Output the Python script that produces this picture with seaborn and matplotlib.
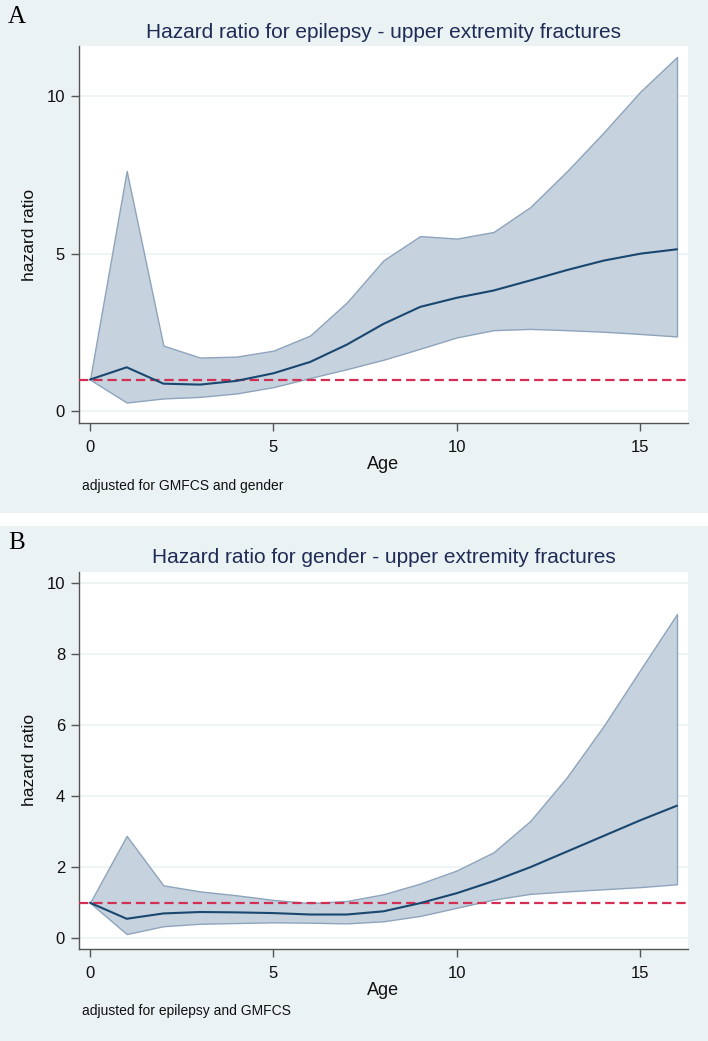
import matplotlib
matplotlib.use("Agg")
import matplotlib.pyplot as plt
import pandas as pd
import seaborn as sns
from matplotlib.patches import Rectangle

# data (age 0..16)
age = list(range(17))

hr_epi = [1.0, 1.39, 0.87, 0.84, 0.96, 1.2, 1.56, 2.11, 2.77, 3.31, 3.6, 3.83, 4.15, 4.48, 4.78, 5.0, 5.14]
lo_epi = [1.0, 0.27, 0.40, 0.45, 0.56, 0.76, 1.05, 1.33, 1.63, 1.98, 2.34, 2.57, 2.61, 2.57, 2.52, 2.45, 2.37]
hi_epi = [1.0, 7.63, 2.08, 1.70, 1.73, 1.92, 2.40, 3.45, 4.79, 5.56, 5.48, 5.69, 6.48, 7.62, 8.85, 10.15, 11.25]

hr_gen = [1.0, 0.55, 0.70, 0.74, 0.73, 0.71, 0.67, 0.67, 0.76, 0.99, 1.27, 1.61, 2.0, 2.44, 2.88, 3.32, 3.73]
lo_gen = [1.0, 0.12, 0.34, 0.41, 0.43, 0.45, 0.44, 0.42, 0.48, 0.63, 0.86, 1.09, 1.25, 1.32, 1.38, 1.44, 1.52]
hi_gen = [1.0, 2.88, 1.49, 1.32, 1.21, 1.08, 0.99, 1.05, 1.24, 1.54, 1.91, 2.42, 3.30, 4.53, 5.97, 7.55, 9.12]

titles = ["Hazard ratio for epilepsy - upper extremity fractures",
          "Hazard ratio for gender - upper extremity fractures"]
notes = ["adjusted for GMFCS and gender", "adjusted for epilepsy and GMFCS"]
letters = ["A", "B"]
yticks = [[0, 5, 10], [0, 2, 4, 6, 8, 10]]
ylims = [(-0.38, 11.6), (-0.3, 10.31)]

sns.set_theme(style="white")
plt.rcParams["font.family"] = ["Liberation Sans", "DejaVu Sans"]

BG = "#eaf2f3"
NAVY = "#1a476f"
FILL = "#c6d2de"
EDGE = "#8ea4bc"
RED = "#d32f55"

fig = plt.figure(figsize=(7.08, 10.41), dpi=100)
fig.patch.set_facecolor("white")
H = 1041.0
fig.patches.append(Rectangle((0, 1 - 513 / H), 1, 513 / H, transform=fig.transFigure,
                             facecolor=BG, edgecolor="none", zorder=-10))
fig.patches.append(Rectangle((0, 0), 1, 1 - 526 / H, transform=fig.transFigure,
                             facecolor=BG, edgecolor="none", zorder=-10))

panels = [(hr_epi, lo_epi, hi_epi), (hr_gen, lo_gen, hi_gen)]
# axes boxes in pixels: (top, bottom)
boxes = [(46, 423), (571.7, 949)]
left, right = 79 / 708, 688 / 708

for i, (hr, lo, hi) in enumerate(panels):
    top, bot = boxes[i]
    ax = fig.add_axes([left, 1 - bot / H, right - left, (bot - top) / H])
    ax.set_zorder(5)
    ax.set_facecolor("white")
    df = pd.DataFrame({"age": age, "hr": hr, "lo": lo, "hi": hi})

    for t in yticks[i]:
        ax.axhline(t, color=BG, lw=1.2, zorder=0)
    ax.fill_between(df["age"], df["lo"], df["hi"], facecolor=FILL,
                    edgecolor=EDGE, lw=1.0, zorder=2)
    ax.axhline(1, color=RED, lw=1.6, ls=(0, (4.2, 2.2)), zorder=3)
    sns.lineplot(data=df, x="age", y="hr", ax=ax, color=NAVY, lw=1.5, zorder=4)

    ax.set_xlim(-0.3, 16.3)
    ax.set_ylim(*ylims[i])
    ax.set_xticks([0, 5, 10, 15])
    ax.set_yticks(yticks[i])
    for s in ["top", "right"]:
        ax.spines[s].set_visible(False)
    for s in ["left", "bottom"]:
        ax.spines[s].set_color("#555555")
        ax.spines[s].set_linewidth(1.0)
    ax.tick_params(axis="both", direction="out", length=6, width=1,
                   color="#555555", labelsize=12, labelcolor="#111111", pad=4,
                   left=True, bottom=True)
    ax.tick_params(axis="x", pad=6)
    ax.set_xlabel("Age", fontsize=13, color="#111111", labelpad=1)
    ax.set_ylabel("hazard ratio", fontsize=12.5, color="#111111", labelpad=7)
    ax.set_title(titles[i], fontsize=15, color="#1f2c55", pad=6)

    fig.text(82 / 708, 1 - (486 if i == 0 else 1011) / H, notes[i],
             fontsize=10, color="#111111", va="center", ha="left")
    fig.text(8 / 708, 1 - (17 if i == 0 else 543) / H, letters[i],
             fontsize=18, family=["Liberation Serif", "DejaVu Serif"],
             color="black", va="center", ha="left")

fig.savefig("out.png", dpi=100, facecolor=fig.get_facecolor())
